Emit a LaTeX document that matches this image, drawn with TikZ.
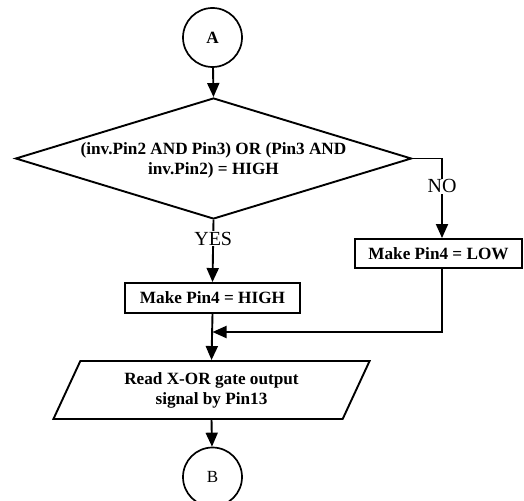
\documentclass[tikz,border=0pt]{standalone}
\usepackage{fontspec}
\setmainfont{Liberation Serif}
\usetikzlibrary{shapes.geometric,arrows.meta}
\begin{document}
\begin{tikzpicture}[x=1pt,y=-1pt,
  lw/.style={line width=1.9pt},
  arr/.style={lw,-{Triangle[length=14pt,width=12pt]}},
  bfont/.style={font=\fontsize{17.2}{20}\selectfont\bfseries},
  conn/.style={circle,draw,line width=1.7pt,minimum size=59pt,inner sep=0pt},
  proc/.style={rectangle,draw,lw,inner sep=0pt,bfont},
  decision/.style={diamond,draw,lw,minimum width=396pt,minimum height=121pt,inner sep=0pt},
  io/.style={trapezium,trapezium left angle=63.4,trapezium right angle=116.6,
     trapezium stretches=true,draw,lw,minimum width=317pt,minimum height=58pt,
     inner sep=0pt,align=center,bfont},
  lbl/.style={fill=white,inner sep=1pt,font=\fontsize{20}{22}\selectfont}
]
\useasboundingbox (0,0) rectangle (524,500);
\node[conn,bfont] (A) at (212.5,37.5) {A};
\node[decision,label={[align=center,bfont,yshift=-1.5pt]center:{(inv.Pin2 AND Pin3) OR (Pin3 AND\\inv.Pin2) = HIGH}}] (dec) at (213.5,158.5) {};
\node[proc,minimum width=175pt,minimum height=30pt] (high) at (212.5,298) {Make Pin4 = HIGH};
\node[proc,minimum width=167pt,minimum height=29pt] (low) at (438.5,253.5) {Make Pin4 = LOW};
\node[io] (read) at (211.5,390) {Read X-OR gate output\\signal by Pin13};
\node[conn,font=\fontsize{17}{20}\selectfont] (B) at (212.5,477) {B};
\coordinate (noturn) at (442,158.5);
\coordinate (merge) at (212.5,332);
\draw[arr] (A) -- (dec.north);
\draw[arr] (dec.south) -- node[lbl,pos=0.3]{YES} (high.north);
\draw[arr] (dec.east) -- (noturn) -- node[lbl,pos=0.35]{NO} (noturn |- low.north);
\draw[arr] (high.south) -- (read.north);
\draw[arr] (noturn |- low.south) -- (noturn |- merge) -- (merge);
\draw[arr] (read.south) -- (B);
\end{tikzpicture}
\end{document}
